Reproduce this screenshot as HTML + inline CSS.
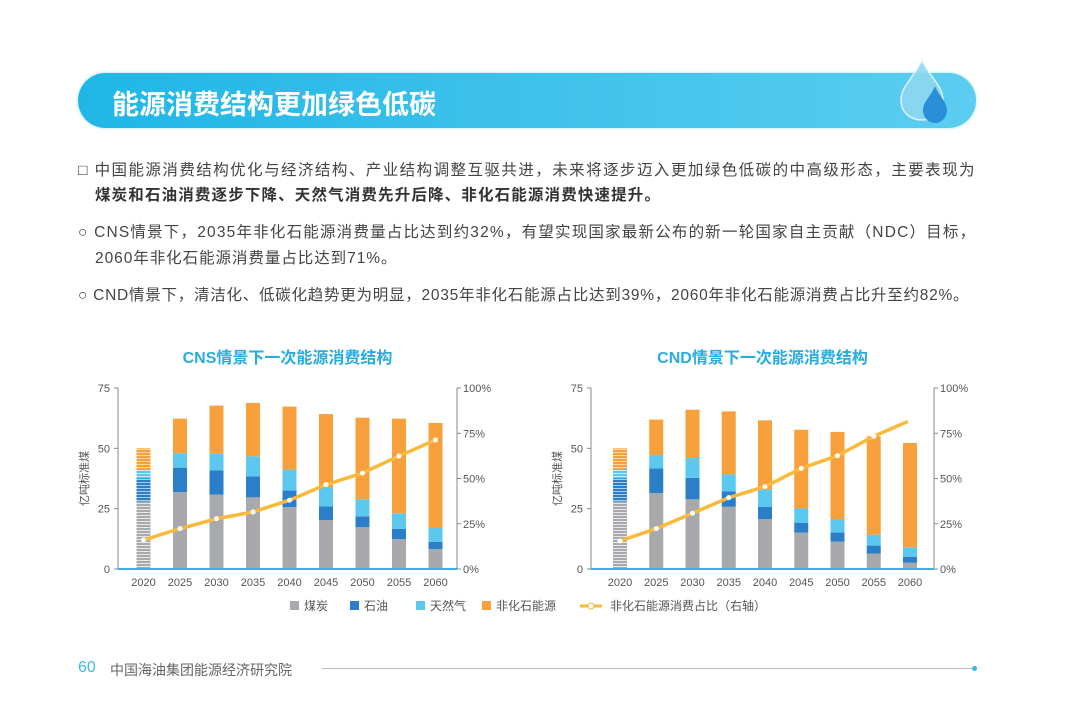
<!DOCTYPE html>
<html><head><meta charset="utf-8">
<style>
body{margin:0;width:1080px;height:720px;background:#fff;position:relative;overflow:hidden;font-family:"Liberation Sans","Noto Sans CJK SC",sans-serif;}
.t{position:absolute;white-space:nowrap;color:#444;font-size:15.5px;letter-spacing:1.45px;}
</style></head><body>
<div style="position:absolute;left:78px;top:73px;width:898px;height:55px;border-radius:28px;background:linear-gradient(90deg,#1fb6e6,#4ac6ee 70%,#5ccdf0);box-shadow:0 0 3px #9fe0f5;"></div>
<div style="position:absolute;left:112px;top:83px;color:#fff;font-size:27px;font-weight:bold;letter-spacing:0px;font-family:'Noto Sans CJK SC',sans-serif;">能源消费结构更加绿色低碳</div>
<svg style="position:absolute;left:895px;top:58px" width="60" height="70">
<path d="M27 2 C20 18 6 28 6 42 C6 55 16 62 27 62 C38 62 48 55 48 42 C48 28 34 18 27 2Z" fill="#8fd8f0" stroke="#e8f8ff" stroke-width="1.5" opacity="0.9"/>
<path d="M40 28 C36 38 28 44 28 52 C28 60 34 65 40 65 C46 65 52 60 52 52 C52 44 44 38 40 28Z" fill="#2a8fd8"/>
</svg>
<div class="t" style="left:78px;top:158px;">□ 中国能源消费结构优化与经济结构、产业结构调整互驱共进，未来将逐步迈入更加绿色低碳的中高级形态，主要表现为</div>
<div class="t" style="left:95px;top:183px;font-weight:bold;color:#333;letter-spacing:1.15px;">煤炭和石油消费逐步下降、天然气消费先升后降、非化石能源消费快速提升。</div>
<div class="t" style="left:78px;top:220px;letter-spacing:1.2px;">○ CNS情景下，2035年非化石能源消费量占比达到约32%，有望实现国家最新公布的新一轮国家自主贡献（NDC）目标，</div>
<div class="t" style="left:95px;top:246px;letter-spacing:0.95px;">2060年非化石能源消费量占比达到71%。</div>
<div class="t" style="left:78px;top:283px;letter-spacing:0.75px;">○ CND情景下，清洁化、低碳化趋势更为明显，2035年非化石能源占比达到39%，2060年非化石能源消费占比升至约82%。</div>

<svg id="chart" style="position:absolute;left:0;top:0" width="1080" height="720">
<defs>
<pattern id="hs0" width="4" height="3" patternUnits="userSpaceOnUse"><rect width="4" height="3" fill="#e6e7e8"/><rect width="4" height="2" fill="#a7a9ac"/></pattern>
<pattern id="hs1" width="4" height="3" patternUnits="userSpaceOnUse"><rect width="4" height="3" fill="#a9cdee"/><rect width="4" height="2" fill="#2a7fc8"/></pattern>
<pattern id="hs2" width="4" height="3" patternUnits="userSpaceOnUse"><rect width="4" height="3" fill="#c6ecfa"/><rect width="4" height="2" fill="#5cc8f0"/></pattern>
<pattern id="hs3" width="4" height="3" patternUnits="userSpaceOnUse"><rect width="4" height="3" fill="#fcd7ae"/><rect width="4" height="2" fill="#f7a03c"/></pattern>
</defs>
</svg>

<div style="position:absolute;left:78px;top:659px;color:#3ab8e8;font-size:16px;">60</div>
<div style="position:absolute;left:110px;top:660px;color:#666;font-size:14px;">中国海油集团能源经济研究院</div>
<div style="position:absolute;left:322px;top:668px;width:650px;height:1px;background:#bbb;"></div>
<div style="position:absolute;left:972px;top:666px;width:5px;height:5px;border-radius:50%;background:#3ab8e8;"></div>

<script>
const years=["2020","2025","2030","2035","2040","2045","2050","2055","2060"];
const cnsCoal=[28,31.9,30.8,29.7,25.6,20.3,17.3,12.4,8.3];
const cnsOil=[9.5,10.1,10.1,8.7,6.9,5.7,4.5,4.2,3.0];
const cnsGas=[4,6,6.9,8.3,8.7,8,7.1,6.5,5.7];
const cnsNonFossil=[8.5,14.3,19.9,22.1,26.1,30.2,33.8,39.2,43.5];
const cnsShare=[16,22.3,27.8,31.5,38,46.6,53,62.4,71.3];
const cndCoal=[28,31.5,28.9,25.8,20.7,15.1,11.3,6.4,2.6];
const cndOil=[9.5,10.2,8.9,6.4,5.1,4.1,3.8,3.3,2.5];
const cndGas=[4,5.5,8.2,7,7.1,5.9,5.6,4.5,3.9];
const cndNonFossil=[8.5,14.7,20,26.1,28.7,32.6,36.1,40.8,43.2];
const cndShare=[15.5,22.3,30.8,39.4,45.5,55.6,62.6,73.3,82];
const leftTicks=["0","25","50","75"];
const rightTicks=["0%","25%","50%","75%","100%"];
const colors=["#a7a9ac","#2a7fc8","#5cc8f0","#f7a03c"];
const NS="http://www.w3.org/2000/svg";
const svg=document.getElementById('chart');
function mk(tag,attrs,parent){const e=document.createElementNS(NS,tag);for(const k in attrs)e.setAttribute(k,attrs[k]);(parent||svg).appendChild(e);return e;}
function chart(name,title,x0,x1,first,step,series,share){
  const g=mk('g',{});
  
  
  const yT=388,yB=569;
  const y=v=>yB-(v/75)*(yB-yT);
  const yp=v=>yB-(v/100)*(yB-yT);
  const xc=i=>first+i*step;
  const tt=mk('text',{x:(x0+x1)/2,y:363,'text-anchor':'middle','font-size':16,'font-weight':'bold',fill:'#29abe2','font-family':'"Liberation Sans","Noto Sans CJK SC",sans-serif'},g);
  tt.textContent=title;
  
  
  mk('line',{x1:x0,y1:yT,x2:x0,y2:yB,stroke:'#888','stroke-width':1},g);
  mk('line',{x1:x1,y1:yT,x2:x1,y2:yB,stroke:'#888','stroke-width':1},g);
  leftTicks.forEach(t=>{const v=+t;mk('line',{x1:x0-4,y1:y(v),x2:x0,y2:y(v),stroke:'#888'},g);
    const e=mk('text',{x:x0-8,y:y(v)+4,'text-anchor':'end','font-size':11,fill:'#555'},g);e.textContent=t;
    
    });
  rightTicks.forEach(t=>{const v=parseFloat(t);mk('line',{x1:x1,y1:yp(v),x2:x1+4,y2:yp(v),stroke:'#888'},g);
    const e=mk('text',{x:x1+6,y:yp(v)+4,'font-size':11,fill:'#555'},g);e.textContent=t;
    
    });
  const yl=mk('text',{x:0,y:0,transform:`translate(${x0-30},${(yT+yB)/2}) rotate(-90)`,'text-anchor':'middle','font-size':11,fill:'#555','font-family':'"Noto Sans CJK SC",sans-serif'},g);
  yl.textContent='亿吨标准煤';
  
  
  years.forEach((yr,i)=>{
    let base=0;
    series.forEach((s,k)=>{
      const v=s[i];
      const r=mk('rect',{x:xc(i)-7,y:y(base+v),width:14,height:y(base)-y(base+v),fill:i===0?'url(#hs'+k+')':colors[k]},g);
      
      
      base+=v;
    });
    const e=mk('text',{x:xc(i),y:586,'text-anchor':'middle','font-size':11,fill:'#555'},g);e.textContent=yr;
    
    
  });
  mk('line',{x1:x0,y1:yB,x2:x1,y2:yB,stroke:'#3ab0e0','stroke-width':2},g);
  const pts=share.map((v,i)=>xc(i)+','+yp(v)).join(' ');
  const pl=mk('polyline',{points:pts,fill:'none',stroke:'#f9b93a','stroke-width':3.5,'stroke-linejoin':'round'},g);
  
  
  share.forEach((v,i)=>{const c=mk('circle',{cx:xc(i),cy:yp(v),r:2.5,fill:'#fff'},g);
    
    });
}
chart('cns-chart','CNS情景下一次能源消费结构',118,457,143.5,36.5,[cnsCoal,cnsOil,cnsGas,cnsNonFossil],cnsShare);
chart('cnd-chart','CND情景下一次能源消费结构',591,934,620,36.25,[cndCoal,cndOil,cndGas,cndNonFossil],cndShare);
const lg=mk('g',{});


const labels=["煤炭","石油","天然气","非化石能源"];
const lx=[290,350,416,482];
labels.forEach((l,k)=>{mk('rect',{x:lx[k],y:601,width:9,height:9,fill:colors[k]},lg);
  const e=mk('text',{x:lx[k]+14,y:610,'font-size':12,fill:'#555'},lg);e.textContent=l;
  
  });
mk('line',{x1:580,y1:606,x2:602,y2:606,stroke:'#f9b93a','stroke-width':3},lg);
mk('circle',{cx:591,cy:606,r:3,fill:'#fff',stroke:'#f9b93a','stroke-width':1},lg);
const le=mk('text',{x:610,y:610,'font-size':12,fill:'#555'},lg);le.textContent='非化石能源消费占比（右轴）';


</script>
</body></html>
